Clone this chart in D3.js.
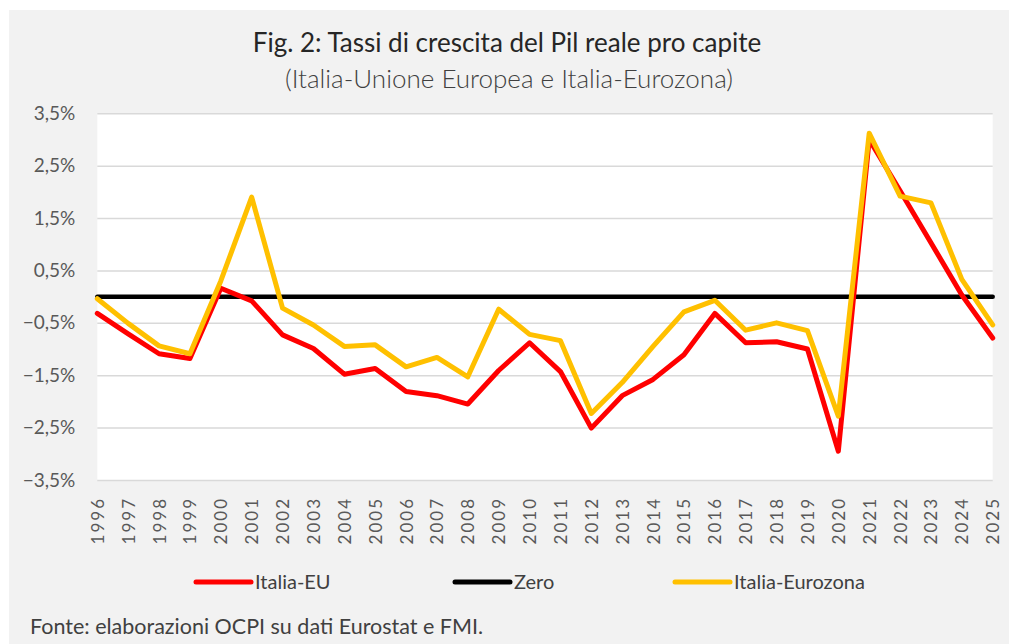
<!DOCTYPE html>
<html>
<head>
<meta charset="utf-8">
<script src="https://cdn.jsdelivr.net/npm/d3@7"></script>
<style>
  body { margin: 0; background: #fff; }
  svg text { font-family: Lato, "Open Sans", sans-serif; }
</style>
</head>
<body>
<div class="main"></div>
<script>
const w = 1009, h = 644;

// data
const years = [1996, 1997, 1998, 1999, 2000, 2001, 2002, 2003, 2004, 2005,
  2006, 2007, 2008, 2009, 2010, 2011, 2012, 2013, 2014, 2015,
  2016, 2017, 2018, 2019, 2020, 2021, 2022, 2023, 2024, 2025];
const italiaEU = [-0.32, -0.71, -1.09, -1.18, 0.16, -0.08, -0.73, -0.99, -1.48, -1.37,
  -1.81, -1.89, -2.05, -1.41, -0.88, -1.43, -2.51, -1.89, -1.58, -1.11,
  -0.32, -0.88, -0.86, -1.00, -2.95, 3.00, 2.02, 1.03, 0.03, -0.79];
const zero = [0, 0, 0, 0, 0, 0, 0, 0, 0, 0, 0, 0, 0, 0, 0,
  0, 0, 0, 0, 0, 0, 0, 0, 0, 0, 0, 0, 0, 0, 0];
const italiaEurozona = [-0.04, -0.51, -0.94, -1.09, 0.30, 1.90, -0.22, -0.54, -0.95, -0.92,
  -1.34, -1.16, -1.53, -0.24, -0.72, -0.84, -2.23, -1.64, -0.95, -0.29,
  -0.07, -0.64, -0.50, -0.65, -2.28, 3.12, 1.92, 1.79, 0.33, -0.54];
const yTicks = [-3.5, -2.5, -1.5, -0.5, 0.5, 1.5, 2.5, 3.5];
const seriesNames = ['Italia-EU', 'Zero', 'Italia-Eurozona'];
const seriesColors = ['#ff0000', '#000000', '#ffc000'];

const svg = d3.select('.main')
  .append('svg')
  .attr('width', w)
  .attr('height', h);

// gray panel
svg.append('rect')
  .attr('x', 9).attr('y', 10)
  .attr('width', w - 9).attr('height', h - 10)
  .attr('fill', '#f2f2f2');

// titles
svg.append('text')
  .attr('x', 507).attr('y', 52)
  .attr('text-anchor', 'middle')
  .attr('font-size', 26)
  .attr('font-weight', 400)
  .attr('fill', '#262626')
  .text('Fig. 2: Tassi di crescita del Pil reale pro capite');
svg.append('text')
  .attr('x', 509).attr('y', 88)
  .attr('text-anchor', 'middle')
  .attr('font-size', 26)
  .attr('font-weight', 300)
  .attr('fill', '#404040')
  .text('(Italia-Unione Europea e Italia-Eurozona)');

const x = d3.scalePoint()
  .domain(years)
  .range([97.3, 992.7]);

const y = d3.scaleLinear()
  .domain([-3.5, 3.5])
  .range([480, 113.3]);

// plot area
svg.append('rect')
  .attr('x', x.range()[0]).attr('y', y(3.5))
  .attr('width', x.range()[1] - x.range()[0])
  .attr('height', y(-3.5) - y(3.5))
  .attr('fill', '#fff');

// y axis with gridlines
const yAxis = svg.append('g')
  .attr('transform', `translate(${x.range()[0]},0)`)
  .call(d3.axisLeft(y)
    .tickValues(yTicks)
    .tickSize(-(x.range()[1] - x.range()[0]))
    .tickPadding(22)
    .tickFormat(d => d3.format('.1f')(d).replace('.', ',') + '%'));
yAxis.select('.domain').remove();
yAxis.selectAll('line')
  .attr('stroke', '#d9d9d9')
  .attr('stroke-width', 1.5);
yAxis.selectAll('text')
  .attr('font-size', 19)
  .attr('fill', '#595959')
  .attr('font-family', 'Lato, sans-serif');

// x axis, rotated labels
const xAxis = svg.append('g')
  .attr('transform', `translate(0,${y(-3.5)})`)
  .call(d3.axisBottom(x).tickSize(0));
xAxis.select('.domain').remove();
xAxis.selectAll('text')
  .attr('font-size', 17)
  .attr('fill', '#595959')
  .attr('font-family', 'Lato, sans-serif')
  .attr('letter-spacing', 2)
  .attr('text-anchor', 'end')
  .attr('dy', '0.35em')
  .attr('y', 0)
  .attr('transform', 'translate(0,17) rotate(-90)')
  .attr('x', 0);

// lines
const line = d3.line()
  .x((d, i) => x(years[i]))
  .y(d => y(d));

const allSeries = [italiaEU, zero, italiaEurozona];
const order = [1, 0, 2];
order.forEach(k => {
  svg.append('path')
    .datum(allSeries[k])
    .attr('d', line)
    .attr('fill', 'none')
    .attr('stroke', seriesColors[k])
    .attr('stroke-width', k === 1 ? 4.5 : 5)
    .attr('stroke-linejoin', 'round')
    .attr('stroke-linecap', 'round');
});

// legend
const legendX = [196, 455, 675];
const legend = svg.append('g').attr('class', 'legend');
seriesNames.forEach((name, i) => {
  legend.append('line')
    .attr('x1', legendX[i]).attr('x2', legendX[i] + 55)
    .attr('y1', 582).attr('y2', 582)
    .attr('stroke', seriesColors[i])
    .attr('stroke-width', 5)
    .attr('stroke-linecap', 'round');
  legend.append('text')
    .attr('x', legendX[i] + 59).attr('y', 589)
    .attr('font-size', 20)
    .attr('fill', '#404040')
    .text(name);
});

// source
svg.append('text')
  .attr('x', 30).attr('y', 634)
  .attr('font-size', 21.5)
  .attr('fill', '#404040')
  .text('Fonte: elaborazioni OCPI su dati Eurostat e FMI.');
</script>
</body>
</html>
